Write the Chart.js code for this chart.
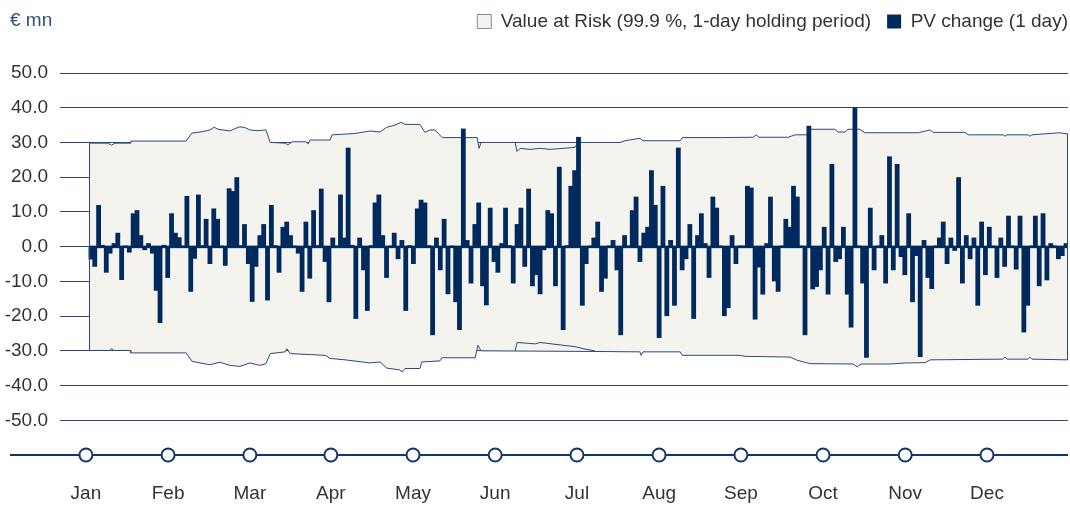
<!DOCTYPE html>
<html>
<head>
<meta charset="utf-8">
<script src="https://cdn.jsdelivr.net/npm/chart.js@4.4.1/dist/chart.umd.min.js"></script>
<style>
  html, body { margin: 0; padding: 0; background: #ffffff; }
  #wrap { position: relative; width: 1070px; height: 532px; }
  #unit { position: absolute; left: 10px; top: 9px; font: 19px "Liberation Sans", Arial, sans-serif; color: #2d4f82; }
  canvas { display: block; }
</style>
</head>
<body>
<div id="wrap">
  <canvas id="c" width="1070" height="532"></canvas>
  <div id="unit">€ mn</div>
</div>
<script>
// ---- data ----
const monthLabels = ['Jan','Feb','Mar','Apr','May','Jun','Jul','Aug','Sep','Oct','Nov','Dec'];
const monthPos = [-1.3, 20.1, 41.4, 62.5, 83.9, 105.3, 126.6, 148.0, 169.3, 190.7, 212.1, 233.4];
const yTicks = [50, 40, 30, 20, 10, 0, -10, -20, -30, -40, -50];

// daily PV change (€ mn), one value per trading day
const pvChange = [
  -3.7, -5.8, 12, 0.5, -7.5, -2, 1, 4, -9.6, 0.3,
  -1.7, 9.6, 10.5, 3.3, -1, 1, -2, -12.7, -22, 0.5,
  -9, 9.6, 4, 2.7, 0.3, 14.6, -13, -3.5, 15, 0.4,
  8, -5, 11, 8, 0.3, -5.5, 16.8, 16, 20, 0.4,
  6.5, -5, -15.9,
  -5.8, 3.3, 6.5, -15.5, 12, 0.4, -7.5, 5.7, 7.2, 3.3,
  0.3, -2, -13, 7.2, -9.2, 10.5, 0.4, 16.7, -4.4, -16,
  2.6, 0.3, 15, 2.6, 28.5, 0.5, -20.8, 2.6, -6.8, -18.5,
  0.4, 12.7, 15, 3.3, -9, 0.3, 4, -3.6, 1.9, -18.5,
  0.4, -5, 11,
  13.5, 12.7, 0.4, -25.5, 2.6, -6.8, 8, -13.7, 0.3, -16,
  -24, 34, 1.9, -10.6, 6.5, 12.7, -11.4, -16.9,
  11.2, -4.4, -7.5, 1, 11.2, 0.4, -10.6, 6.5, 11.2, -5.8,
  16.7, -11.4, -8.2, -13.7, -1, 10.5, 9.6, -11.4, 23,
  -24, 0.4, 17.5, 22, 31.6, -17,
  -5, 0.3, 2.6, 7.2, -13, -9.2, 0.3, 1.9, -6.8, -25.5,
  3.3, 0.3, 10.5, 14.4, -4.4, 4, 5.7, 22, 12, -26.3,
  17.5, -20, 1.9, -17, 28.5, -6.8, -3.6, 6.5, -20.8, 3.3,
  9.6, 1, -9, 14.4, 11.2, 0.3, -20, -17.7, 3.3, -5,
  0.3, 0.3, 17.5, 17,
  -21, -6, -13.8, 1, 14.4, -10, -13, 0.3, 8, 5.7,
  17.5, 14.4, 0.3, -25.5, 34.8, -12.3, -11.6, -6.8, 5.7, -13.8,
  23.8, -4.4, -3.6, 5.7, -13.8, -23.3, 40.1, 0.3, -10.6, -32,
  11.2, -6.8, 0.3, 3.3, -10.6, 26, -6.8, 23.8, -3, -8.2,
  9.6, -16,
  -2.7, -31.8, 1.9, -9, -12.2, 0.3, 2.6, 7.2, -5, 2.6,
  -1.2, 20, -10.6, 3.3, -3.6, 2.6, -17, 7.2, -8.2, 5.7,
  0.3, -9, 2.6, -5.8, 8.9, 0.3, -6.6, 8.9, -24.7, -17,
  0.3, 8.9, -11.4, 9.6, -9.7, 1, 0.3, -3.6, -2.7, 1
];

// Value at Risk band, vertices (trading-day position, € mn)
const varUpperDay = [-0.5, 4.5, 5.4, 6.3, 10.2, 10.4, 24.8, 26.3, 28.4, 31.0, 32.1, 33.1, 36.2, 37.5, 38.8, 40.1, 41.4, 43.5, 45.6, 46.7, 50.6, 51.3, 52.4, 56.0, 56.6, 57.1, 62.3, 62.8, 66.2, 68.8, 72.7, 75.3, 77.1, 79.2, 80.8, 81.8, 85.7, 87.0, 88.3, 89.6, 91.5, 100.6, 101.1, 101.6, 137.8, 139.1, 143.0, 143.8, 153.5, 154.0, 163.9, 172.5, 173.3, 174.0, 181.6, 183.4, 186.8, 187.3, 193.8, 194.6, 196.4, 197.2, 200.3, 201.6, 215.5, 218.6, 219.4, 227.7, 228.5, 237.6, 238.1, 238.6, 244.1, 244.6, 245.1, 252.4, 254.5];
const varUpperVal = [29.8, 29.8, 29.2, 29.8, 29.8, 30.4, 30.4, 32.7, 33.0, 33.6, 34.4, 33.8, 33.3, 34.0, 34.5, 34.3, 33.6, 33.4, 33.6, 30.0, 29.8, 29.3, 30.2, 30.2, 29.6, 30.7, 30.7, 32.2, 32.4, 32.6, 33.3, 33.0, 34.4, 35.0, 35.8, 35.2, 35.2, 32.9, 33.6, 33.6, 31.4, 31.4, 28.3, 30.0, 30.0, 30.5, 31.2, 30.5, 30.5, 31.4, 31.4, 31.5, 32.2, 31.5, 31.5, 32.2, 32.2, 33.8, 33.8, 33.0, 33.0, 33.8, 33.8, 32.8, 32.8, 33.6, 32.9, 32.9, 32.2, 32.2, 31.8, 32.2, 32.2, 31.8, 32.2, 32.8, 32.4];
const varLowerDay = [-0.5, 5.0, 5.4, 5.8, 10.2, 10.4, 24.8, 26.3, 28.4, 31.0, 33.6, 36.2, 38.8, 41.4, 44.0, 45.6, 46.7, 50.6, 51.1, 51.9, 61.0, 62.3, 66.2, 72.7, 75.3, 77.1, 80.5, 81.0, 81.8, 85.7, 86.2, 90.9, 91.5, 100.1, 100.8, 101.6, 132.6, 143.0, 143.3, 143.8, 153.5, 154.0, 169.1, 170.4, 182.1, 183.9, 187.3, 198.5, 199.6, 200.6, 208.2, 212.1, 217.3, 218.6, 237.6, 238.1, 238.6, 244.1, 244.6, 245.1, 254.5];
const varLowerVal = [-29.9, -29.9, -29.3, -29.9, -29.9, -30.6, -30.6, -33.0, -33.5, -34.0, -33.3, -34.2, -34.5, -33.5, -34.2, -33.7, -30.8, -30.3, -29.4, -30.8, -31.3, -32.2, -32.6, -33.5, -33.2, -35.0, -35.5, -36.1, -35.1, -35.1, -33.2, -32.9, -32.0, -32.0, -28.4, -30.0, -30.2, -30.3, -31.3, -30.3, -30.3, -31.3, -31.3, -31.6, -31.8, -32.7, -33.7, -33.8, -34.6, -33.8, -33.8, -33.5, -33.4, -32.6, -32.4, -31.8, -32.4, -32.4, -31.8, -32.4, -32.6];
// second (inner) boundary visible in June/July
const innerUpperDay = [110.5, 111.0, 111.8, 114.4, 117.0, 119.6, 123.0, 126.1, 126.9];
const innerUpperVal = [30.0, 27.4, 28.3, 28.0, 28.3, 28.0, 28.3, 28.6, 30.0];
const innerLowerDay = [110.5, 111.0, 115.7, 117.0, 122.2, 126.1, 128.7, 131.3];
const innerLowerVal = [-30.0, -27.6, -28.0, -27.6, -28.3, -28.8, -29.5, -30.0];

// ---- styling ----
const NAVY = '#002a5e';
const LINE = '#2b4a7b';
const BAND = '#f4f3ed';
const TEXT = '#333333';
const FONT = '"Liberation Sans", Arial, sans-serif';
const FSIZE = 19;

const pts = (xs, ys) => xs.map((x, i) => ({ x: x, y: ys[i] }));

const baseLine = {
  id: 'baseLine',
  beforeDatasetsDraw(chart) {
    const { ctx, chartArea, scales } = chart;
    const y = scales.y.getPixelForValue(-60);
    ctx.save();
    ctx.strokeStyle = '#153668';
    ctx.lineWidth = 2;
    ctx.beginPath();
    ctx.moveTo(10, y);
    ctx.lineTo(chartArea.right, y);
    ctx.stroke();
    ctx.restore();
  },
  afterDatasetsDraw(chart) {
    const { ctx, scales } = chart;
    const xl = scales.x.getPixelForValue(varUpperDay[0]);
    const xr = scales.x.getPixelForValue(varUpperDay[varUpperDay.length - 1]);
    ctx.save();
    // zero baseline of the daily bars
    const y0 = scales.y.getPixelForValue(0);
    ctx.fillStyle = NAVY;
    ctx.fillRect(xl, y0 - 1, xr - xl, 2.5);
    // vertical edges of the VaR band
    ctx.lineWidth = 1;
    ctx.strokeStyle = LINE;
    ctx.beginPath();
    ctx.moveTo(Math.round(xl) + 0.5, scales.y.getPixelForValue(varUpperVal[0]));
    ctx.lineTo(Math.round(xl) + 0.5, scales.y.getPixelForValue(varLowerVal[0]));
    ctx.moveTo(Math.round(xr) - 0.5, scales.y.getPixelForValue(varUpperVal[varUpperVal.length - 1]));
    ctx.lineTo(Math.round(xr) - 0.5, scales.y.getPixelForValue(varLowerVal[varLowerVal.length - 1]));
    ctx.stroke();
    ctx.restore();
  }
};

const legendSpace = {
  id: 'legendSpace',
  beforeInit(chart) {
    const origFit = chart.legend.fit;
    chart.legend.fit = function () {
      origFit.bind(chart.legend)();
      this.height = 73;
    };
  },
  afterLayout(chart) {
    const lg = chart.legend;
    lg.left += 16; lg.right += 16;
    lg.top -= 4; lg.bottom -= 4;
  }
};

new Chart(document.getElementById('c'), {
  type: 'bar',
  data: {
    datasets: [
      {
        type: 'bar',
        label: 'PV change (1 day)',
        data: pvChange.map((v, i) => ({ x: i, y: v })),
        backgroundColor: NAVY,
        borderWidth: 0,
        barPercentage: 1.25,
        categoryPercentage: 1,
        order: 1
      },
      {
        type: 'line',
        label: 'Value at Risk (99.9 %, 1-day holding period)',
        data: pts(varUpperDay, varUpperVal),
        borderColor: LINE,
        borderWidth: 1,
        backgroundColor: BAND,
        fill: '+1',
        pointRadius: 0,
        tension: 0,
        order: 5
      },
      {
        type: 'line',
        label: 'VaR lower',
        data: pts(varLowerDay, varLowerVal),
        borderColor: LINE,
        borderWidth: 1,
        backgroundColor: BAND,
        fill: false,
        pointRadius: 0,
        tension: 0,
        order: 4
      },
      {
        type: 'line',
        label: 'inner upper',
        data: pts(innerUpperDay, innerUpperVal),
        borderColor: LINE,
        borderWidth: 1,
        fill: false,
        pointRadius: 0,
        tension: 0,
        order: 3
      },
      {
        type: 'line',
        label: 'inner lower',
        data: pts(innerLowerDay, innerLowerVal),
        borderColor: LINE,
        borderWidth: 1,
        fill: false,
        pointRadius: 0,
        tension: 0,
        order: 3
      },
      {
        type: 'line',
        label: 'months',
        data: monthPos.map(p => ({ x: p, y: -60 })),
        showLine: false,
        pointRadius: 6.5,
        pointBorderWidth: 2,
        pointBackgroundColor: '#ffffff',
        pointBorderColor: '#153668',
        clip: false,
        order: 0
      }
    ]
  },
  options: {
    responsive: false,
    animation: false,
    events: [],
    layout: { autoPadding: false, padding: { left: 0, right: 2, top: 0, bottom: 0 } },
    plugins: {
      tooltip: { enabled: false },
      legend: {
        position: 'top',
        align: 'end',
        labels: {
          font: { family: FONT, size: FSIZE },
          color: TEXT,
          boxWidth: 14,
          boxHeight: 14,
          padding: 16,
          generateLabels: () => [
            { text: 'Value at Risk (99.9 %, 1-day holding period)', fillStyle: BAND, strokeStyle: '#7d8ca6', lineWidth: 1, hidden: false, datasetIndex: 1, fontColor: TEXT },
            { text: 'PV change (1 day)', fillStyle: NAVY, strokeStyle: NAVY, lineWidth: 0, hidden: false, datasetIndex: 0, fontColor: TEXT }
          ]
        }
      }
    },
    scales: {
      x: {
        type: 'linear',
        min: -8.054,
        max: 254.5,
        offset: false,
        grid: { display: false },
        border: { display: false },
        afterBuildTicks: s => { s.ticks = monthPos.map(p => ({ value: p })); },
        afterFit: s => { s.height = 77; s.paddingLeft = 0; s.paddingRight = 0; },
        ticks: {
          autoSkip: false,
          maxRotation: 0,
          padding: 19,
          color: TEXT,
          font: { family: FONT, size: FSIZE },
          callback: (v, i) => monthLabels[i]
        }
      },
      y: {
        min: -60,
        max: 50,
        afterBuildTicks: s => { s.ticks = yTicks.concat([-60]).map(v => ({ value: v })); },
        afterFit: s => { s.width = 60; },
        border: { display: false },
        grid: {
          drawTicks: false,
          lineWidth: 1,
          color: c => (c.tick && c.tick.value === -60) ? 'rgba(0,0,0,0)' : LINE
        },
        ticks: {
          padding: 12,
          color: TEXT,
          font: { family: FONT, size: FSIZE },
          callback: v => (v === -60 ? '' : v.toFixed(1))
        }
      }
    }
  },
  plugins: [legendSpace, baseLine]
});
</script>
</body>
</html>
